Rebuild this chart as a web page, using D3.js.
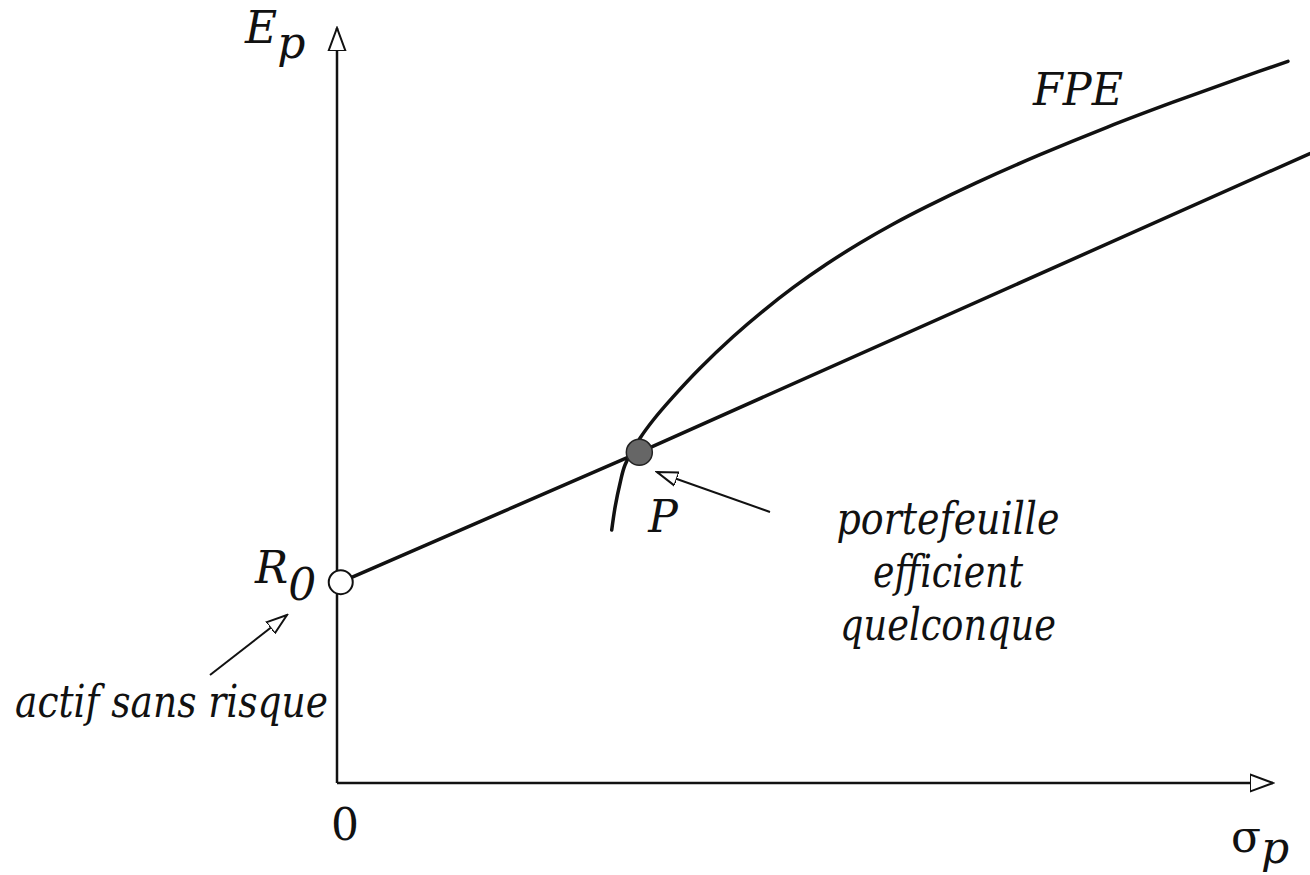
<!DOCTYPE html>
<html>
<head>
<meta charset="utf-8">
<script src="https://cdn.jsdelivr.net/npm/d3@7"></script>
<style>
  body { margin: 0; background: #fff; }
</style>
</head>
<body>
<div id="chart"></div>
<script>
// domaine en unités arbitraires (sigma_p, E_p)
const sigmaDomain = [0, 100];
const espDomain = [0, 100];

// actif sans risque et portefeuille P
const actifSansRisque = { sigma: 0.4, esp: 26.6 };
const portefeuilleP = { sigma: 32.3, esp: 43.8 };

// droite de marché (R0 -> P -> bord droit)
const droiteSigma = [0.4, 32.3, 104.0];
const droiteEsp = [26.6, 43.8, 83.4];

// frontière des portefeuilles efficients (FPE)
const fpeSigma = [29.35, 29.72, 30.24, 30.77, 32.37, 33.79, 35.93, 38.78, 42.34, 45.55, 48.75, 52.32, 55.88, 59.43, 63.00, 68.34, 75.11, 82.26, 89.32, 96.47, 101.6];
const fpeEsp   = [33.51, 36.60, 39.70, 42.12, 45.66, 48.08, 51.17, 54.93, 59.13, 62.54, 65.64, 68.74, 71.52, 74.04, 76.34, 79.52, 83.22, 86.85, 90.17, 93.36, 95.59];

const svgWidth = 1310, svgHeight = 875;
const FS = 44;
const police = '"DejaVu Serif", serif';

const svg = d3.select("#chart")
    .append("svg")
    .attr("width", svgWidth)
    .attr("height", svgHeight)
    .attr("font-family", police);

const x = d3.scaleLinear().domain(sigmaDomain).range([337, 1273]);
const y = d3.scaleLinear().domain(espDomain).range([783, 28]);

// flèches (triangles ouverts)
const defs = svg.append("defs");
function marker(id, len, half) {
    defs.append("marker")
        .attr("id", id)
        .attr("markerUnits", "userSpaceOnUse")
        .attr("viewBox", `0 ${-half - 2} ${len + 2} ${2 * half + 4}`)
        .attr("refX", len)
        .attr("refY", 0)
        .attr("markerWidth", len + 2)
        .attr("markerHeight", 2 * half + 4)
        .attr("orient", "auto")
        .append("path")
        .attr("d", `M0,${-half}L${len},0L0,${half}Z`)
        .attr("fill", "#fff")
        .attr("stroke", "#111")
        .attr("stroke-width", 2);
}
marker("axe", 23, 8.5);
marker("note", 21, 7);

// Axes
svg.append("line")
    .attr("x1", x(0)).attr("y1", y(0))
    .attr("x2", x(0)).attr("y2", y(100))
    .attr("stroke", "#111").attr("stroke-width", 2.5)
    .attr("marker-end", "url(#axe)");

svg.append("line")
    .attr("x1", x(0)).attr("y1", y(0))
    .attr("x2", x(100)).attr("y2", y(0))
    .attr("stroke", "#111").attr("stroke-width", 2.5)
    .attr("marker-end", "url(#axe)");

// Droite R0 - P
const droite = droiteSigma.map((s, i) => [s, droiteEsp[i]]);
svg.append("path")
    .datum(droite)
    .attr("d", d3.line().x(d => x(d[0])).y(d => y(d[1])))
    .attr("fill", "none")
    .attr("stroke", "#111")
    .attr("stroke-width", 3.5);

// Courbe FPE
const fpe = fpeSigma.map((s, i) => [s, fpeEsp[i]]);
svg.append("path")
    .datum(fpe)
    .attr("d", d3.line().curve(d3.curveCatmullRom).x(d => x(d[0])).y(d => y(d[1])))
    .attr("fill", "none")
    .attr("stroke", "#111")
    .attr("stroke-width", 3.5)
    .attr("stroke-linecap", "round");

// Points
svg.append("circle")
    .attr("cx", x(actifSansRisque.sigma))
    .attr("cy", y(actifSansRisque.esp))
    .attr("r", 12)
    .attr("fill", "#fff")
    .attr("stroke", "#111")
    .attr("stroke-width", 2);

svg.append("circle")
    .attr("cx", x(portefeuilleP.sigma))
    .attr("cy", y(portefeuilleP.esp))
    .attr("r", 13)
    .attr("fill", "#666")
    .attr("stroke", "#222")
    .attr("stroke-width", 1.5);

// Flèches d'annotation
svg.append("line")
    .attr("x1", 770).attr("y1", 512)
    .attr("x2", 657).attr("y2", 472)
    .attr("stroke", "#111").attr("stroke-width", 2)
    .attr("marker-end", "url(#note)");

svg.append("line")
    .attr("x1", 210).attr("y1", 675)
    .attr("x2", 287).attr("y2", 615)
    .attr("stroke", "#111").attr("stroke-width", 2)
    .attr("marker-end", "url(#note)");

// Textes
function label(px, py, anchor, largeur) {
    const t = svg.append("text")
        .attr("x", px).attr("y", py)
        .attr("text-anchor", anchor || "start")
        .attr("fill", "#111")
        .attr("font-size", FS)
        .attr("font-style", "italic");
    if (largeur) {
        t.attr("textLength", largeur).attr("lengthAdjust", "spacingAndGlyphs");
    }
    return t;
}

const ep = label(x(0) - 92, 43);
ep.append("tspan").text("E");
ep.append("tspan").attr("dy", 15).text("p");

const sp = svg.append("text")
    .attr("x", 1231).attr("y", 852)
    .attr("fill", "#111")
    .attr("font-size", FS);
sp.append("tspan").text("σ");
sp.append("tspan").attr("dy", 11).attr("font-style", "italic").text("p");

const r0 = label(x(0) - 82, 583);
r0.append("tspan").text("R");
r0.append("tspan").attr("dy", 17).text("0");

svg.append("text")
    .attr("x", x(0) + 8).attr("y", 840)
    .attr("text-anchor", "middle")
    .attr("fill", "#111")
    .attr("font-size", FS)
    .text("0");

label(x(portefeuilleP.sigma) + 9, 532).text("P");
label(1033, 105, "start", 90).text("FPE");
label(15, 717, "start", 313).text("actif sans risque");

const lignes = ["portefeuille", "efficient", "quelconque"];
const largeurs = [223, 150, 216];
lignes.forEach((t, i) => {
    label(948 - largeurs[i] / 2, 534 + i * 53, "start", largeurs[i]).text(t);
});
</script>
</body>
</html>
